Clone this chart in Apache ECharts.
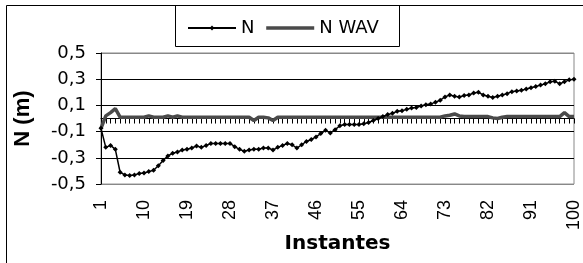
<!DOCTYPE html>
<html>
<head>
<meta charset="utf-8">
<script src="https://cdn.jsdelivr.net/npm/echarts@6/dist/echarts.min.js"></script>
<style>
  html, body { margin: 0; padding: 0; background: #fff; }
  #chart { width: 583px; height: 263px; }
</style>
</head>
<body>
<div id="chart"></div>
<script>
// instantes 1..100
const instantes = []
for (let i = 1; i <= 100; i++) instantes.push(String(i))

// N (m)
const serieN = [
  -0.075, -0.22, -0.205, -0.235, -0.41, -0.43, -0.435, -0.43, -0.42, -0.415,
  -0.405, -0.395, -0.36, -0.32, -0.285, -0.265, -0.255, -0.24, -0.235, -0.225,
  -0.21, -0.22, -0.205, -0.19, -0.19, -0.19, -0.19, -0.19, -0.215, -0.235,
  -0.25, -0.24, -0.235, -0.235, -0.225, -0.225, -0.24, -0.22, -0.205, -0.19,
  -0.2, -0.225, -0.2, -0.175, -0.16, -0.14, -0.115, -0.09, -0.11, -0.085,
  -0.055, -0.045, -0.045, -0.045, -0.045, -0.04, -0.03, -0.015, 0.0, 0.015,
  0.03, 0.04, 0.055, 0.06, 0.07, 0.08, 0.085, 0.095, 0.105, 0.11,
  0.125, 0.14, 0.165, 0.18, 0.17, 0.165, 0.175, 0.18, 0.195, 0.2,
  0.18, 0.17, 0.16, 0.17, 0.18, 0.19, 0.205, 0.21, 0.215, 0.225,
  0.235, 0.245, 0.255, 0.265, 0.28, 0.285, 0.265, 0.28, 0.295, 0.3
]

// N WAV (m)
const serieWAV = [
  -0.075, 0.02, 0.045, 0.075, 0.01, 0.01, 0.01, 0.01, 0.01, 0.01,
  0.02, 0.01, 0.01, 0.01, 0.02, 0.01, 0.02, 0.01, 0.01, 0.01,
  0.01, 0.01, 0.01, 0.01, 0.01, 0.01, 0.01, 0.01, 0.01, 0.01,
  0.01, 0.01, -0.015, 0.01, 0.01, 0.005, -0.015, 0.01, 0.01, 0.01,
  0.01, 0.01, 0.01, 0.01, 0.01, 0.01, 0.01, 0.01, 0.01, 0.01,
  0.01, 0.01, 0.01, 0.01, 0.01, 0.01, 0.01, 0.01, 0.01, 0.01,
  0.01, 0.01, 0.01, 0.01, 0.01, 0.01, 0.01, 0.01, 0.01, 0.01,
  0.01, 0.01, 0.02, 0.025, 0.035, 0.02, 0.015, 0.015, 0.015, 0.015,
  0.015, 0.015, 0.005, 0.0, 0.01, 0.015, 0.015, 0.015, 0.015, 0.015,
  0.015, 0.015, 0.015, 0.015, 0.015, 0.015, 0.015, 0.045, 0.015, 0.015
]

const yTicks = { min: -0.5, max: 0.5, step: 0.2 }

let chart = echarts.init(document.getElementById('chart'), null, { renderer: 'canvas' })

let fmt = (v) => (Math.round(v * 10) / 10).toFixed(1).replace('.', ',')

chart.setOption({
    animation: false,
    backgroundColor: '#fff',
    grid: {
        left: 101, right: 4, top: 53, bottom: 74,
        show: true, borderColor: '#888', borderWidth: 1, backgroundColor: '#fff'
    },
    legend: {
        data: [
            { name: 'N' },
            { name: 'N WAV', itemStyle: { opacity: 0 }, lineStyle: { color: '#4a4a4a', width: 3.5 } }
        ],
        left: 182, top: 14,
        itemWidth: 48, itemHeight: 6, itemGap: 10,
        textStyle: { fontFamily: 'DejaVu Sans', fontSize: 18, color: '#000' }
    },
    xAxis: [{
        type: 'category',
        data: instantes,
        boundaryGap: false,
        position: 'bottom',
        axisLine: { onZero: true, lineStyle: { color: '#000', width: 1 } },
        axisTick: { show: true, interval: 0, length: 5, lineStyle: { color: '#000' } },
        axisLabel: { show: false },
        splitLine: { show: false }
    }, {
        type: 'category',
        data: instantes,
        boundaryGap: false,
        position: 'bottom',
        axisLine: { show: false, onZero: false },
        axisTick: { show: false },
        axisLabel: {
            interval: 8, rotate: 90, margin: 16,
            fontFamily: 'Liberation Sans', fontSize: 18, color: '#000'
        },
        splitLine: { show: false },
        name: 'Instantes',
        nameLocation: 'middle',
        nameGap: 45,
        nameTextStyle: { fontFamily: 'DejaVu Sans', fontWeight: 'bold', fontSize: 20, color: '#000' }
    }],
    yAxis: {
        type: 'value',
        min: yTicks.min, max: yTicks.max, interval: yTicks.step,
        axisLine: { show: true, lineStyle: { color: '#000', width: 1 } },
        axisTick: { show: true, length: 5, lineStyle: { color: '#000' } },
        axisLabel: { formatter: fmt, margin: 15, fontFamily: 'DejaVu Sans', fontSize: 18, color: '#000' },
        splitLine: { lineStyle: { color: ['#888', '#000', '#000', '#000', '#000', '#888'], width: 1 } },
        name: 'N (m)',
        nameLocation: 'middle',
        nameGap: 67,
        nameTextStyle: { fontFamily: 'Liberation Sans', fontWeight: 'bold', fontSize: 22, color: '#000' }
    },
    graphic: [{
        type: 'rect', silent: true, z: 100,
        shape: { x: 6.5, y: 5.5, width: 700, height: 400 },
        style: { fill: 'none', stroke: '#000', lineWidth: 1 }
    }, {
        type: 'rect', silent: true, z: 100,
        shape: { x: 175.5, y: 5.5, width: 224, height: 41 },
        style: { fill: 'none', stroke: '#000', lineWidth: 1 }
    }],
    series: [{
        name: 'N WAV',
        type: 'line',
        data: serieWAV,
        symbol: 'none',
        lineStyle: { color: '#4a4a4a', width: 3.5 },
        itemStyle: { color: '#4a4a4a' },
        z: 3
    }, {
        name: 'N',
        type: 'line',
        data: serieN,
        symbol: 'diamond',
        symbolSize: 5,
        showAllSymbol: true,
        lineStyle: { color: '#000', width: 1.5 },
        itemStyle: { color: '#000' },
        z: 4
    }]
})
</script>
</body>
</html>
